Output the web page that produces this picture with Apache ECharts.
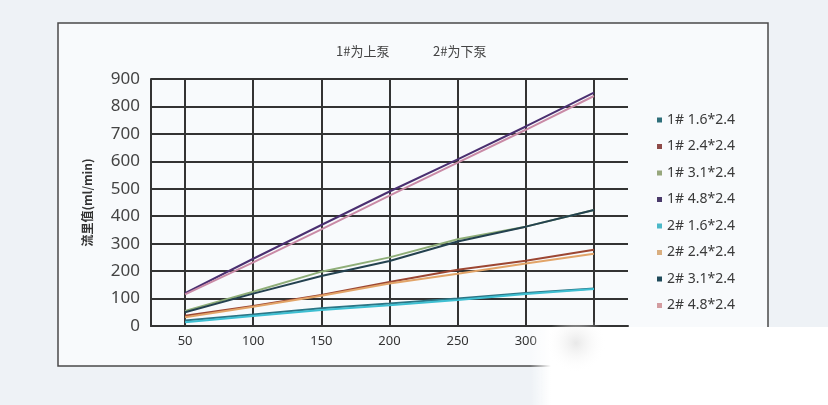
<!DOCTYPE html>
<html>
<head>
<meta charset="utf-8">
<script src="https://cdn.jsdelivr.net/npm/echarts@6/dist/echarts.min.js"></script>
<style>
html,body{margin:0;padding:0;background:#eef2f6;}
#c{width:828px;height:405px;}
</style>
</head>
<body>
<div id="c"></div>
<script>
const categories = ['50','100','150','200','250','300','350'];
const seriesNames = ['1# 1.6*2.4','1# 2.4*2.4','1# 3.1*2.4','1# 4.8*2.4','2# 1.6*2.4','2# 2.4*2.4','2# 3.1*2.4','2# 4.8*2.4'];
const p1_16 = [20, 42, 65, 82, 100, 120, 137];
const p1_24 = [37, 73, 113, 160, 205, 238, 278];
const p1_31 = [55, 125, 198, 250, 316, 362, 423];
const p1_48 = [120, 245, 368, 490, 607, 727, 850];
const p2_16 = [14, 36, 58, 76, 95, 117, 135];
const p2_24 = [32, 70, 110, 155, 190, 228, 263];
const p2_31 = [50, 118, 182, 237, 308, 362, 423];
const p2_48 = [115, 232, 352, 475, 595, 715, 838];
const yTicks = {min: 0, max: 900, interval: 100};
const lineColors = ['#2b7585','#9c4632','#8fae78','#4a2f70','#3ebfd2','#e2a468','#23414f','#c98aa6'];
const iconColors = ['#2f6f7a','#8e4a48','#97a77c','#4a3a6a','#4bb8c8','#d9ae7f','#1f4a5a','#d39ca0'];
const allData = [p1_16,p1_24,p1_31,p1_48,p2_16,p2_24,p2_31,p2_48];

const chart = echarts.init(document.getElementById('c'), null, {renderer:'canvas'});
const series = allData.map((d,i)=>({
  name: seriesNames[i],
  type: 'line',
  data: d,
  symbol: 'none',
  lineStyle: {width: 2, color: lineColors[i]},
  itemStyle: {color: iconColors[i]},
  z: 3
}));
chart.setOption({
  backgroundColor: 'transparent',
  animation: false,
  graphic: [
    {type:'rect', shape:{x:58,y:23,width:710,height:343}, style:{fill:'#f8fafc', stroke:'#4a4a4a', lineWidth:1.5}, z:-10},
    {type:'rect', shape:{x:530,y:327,width:298,height:78}, z:100,
      style:{fill:{type:'linear', x:0, y:0, x2:1, y2:0, colorStops:[
        {offset:0, color:'rgba(255,255,255,0)'},
        {offset:0.07, color:'rgba(255,255,255,1)'},
        {offset:1, color:'rgba(255,255,255,1)'}]}}},
    {type:'rect', shape:{x:540,y:322,width:80,height:60}, z:101,
      style:{fill:{type:'radial', x:0.45, y:0.35, r:0.5, colorStops:[
        {offset:0, color:'rgba(230,230,230,0.9)'},
        {offset:1, color:'rgba(255,255,255,0)'}]}}}
  ],
  title: [
    {text:'1#为上泵', left:331, top:40, textStyle:{fontSize:13, fontWeight:'normal', color:'#444', fontFamily:'Noto Sans CJK SC'}},
    {text:'2#为下泵', left:428, top:40, textStyle:{fontSize:13, fontWeight:'normal', color:'#444', fontFamily:'Noto Sans CJK SC'}}
  ],
  legend: {
    orient:'vertical', left:652, top:108,
    itemWidth:5, itemHeight:5, itemGap:12.5, icon:'rect',
    textStyle:{fontSize:14, color:'#3a3a3a', fontFamily:'Noto Sans'},
    data: seriesNames
  },
  grid: {left:151, top:79, right:200, bottom:79, containLabel:false},
  xAxis: {
    type:'category', data: categories, boundaryGap:true,
    axisLine:{show:true, lineStyle:{color:'#333', width:2}},
    axisTick:{show:false},
    axisLabel:{fontSize:13, color:'#333', margin:9, fontFamily:'Noto Sans'},
    splitLine:{show:true, alignWithLabel:true, lineStyle:{color:'#333', width:2}}
  },
  yAxis: {
    type:'value', min:yTicks.min, max:yTicks.max, interval:yTicks.interval,
    name:'流里值(ml/min)', nameLocation:'middle', nameRotate:90, nameGap:58,
    nameTextStyle:{fontSize:12, color:'#333', fontWeight:'bold', fontFamily:'Noto Sans CJK SC'},
    axisLine:{show:true, lineStyle:{color:'#333', width:2}},
    axisTick:{show:false},
    axisLabel:{fontSize:17, color:'#444', margin:11, fontFamily:'Noto Sans'},
    splitLine:{show:true, lineStyle:{color:'#333', width:2}}
  },
  series: series
});
</script>
</body>
</html>
